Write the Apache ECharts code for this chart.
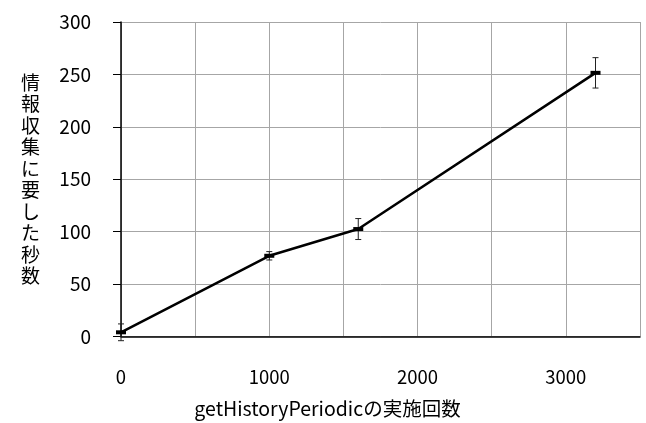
<!DOCTYPE html>
<html>
<head>
<meta charset="utf-8">
<script src="https://cdn.jsdelivr.net/npm/echarts@6/dist/echarts.min.js"></script>
<style>
  html, body { margin: 0; padding: 0; background: #fff; }
  #chart { width: 646px; height: 423px; }
</style>
</head>
<body>
<div id="chart"></div>
<script>
// 実施回数 / 秒数 / 誤差
var callCounts = [0, 1000, 1600, 3200]
var seconds = [4, 77, 102.5, 251.5]
var errors = [8, 4, 10, 14.5]

var xTicks = [0, 1000, 2000, 3000]
var yTicks = [0, 50, 100, 150, 200, 250, 300]

var font = 'Noto Sans CJK JP'
var chart = echarts.init(document.getElementById('chart'))

var lineData = callCounts.map(function (x, i) { return [x, seconds[i]] })
var errData = callCounts.map(function (x, i) {
  return [x, seconds[i] - errors[i], seconds[i] + errors[i]]
})

var option = {
  animation: false,
  grid: { left: 121, right: 6, top: 22, bottom: 84 },
  xAxis: {
    type: 'value',
    min: 0,
    max: 3500,
    interval: 500,
    name: 'getHistoryPeriodicの実施回数',
    nameLocation: 'middle',
    nameGap: 62,
    nameTextStyle: { fontFamily: font, fontSize: 19.5, color: '#000', padding: [0, 106, 0, 0] },
    axisLine: { lineStyle: { color: '#000', width: 1.5 } },
    axisTick: { show: false },
    axisLabel: {
      margin: 31,
      fontFamily: font,
      fontSize: 18.5,
      color: '#000',
      formatter: function (v) { return xTicks.indexOf(v) >= 0 ? String(v) : '' }
    },
    splitLine: { show: true, lineStyle: { color: '#a6a6a6', width: 1 } }
  },
  yAxis: {
    type: 'value',
    min: 0,
    max: 300,
    interval: 50,
    name: '情報収集に要した秒数'.split('').join('\n'),
    nameLocation: 'middle',
    nameRotate: 0,
    nameGap: 81,
    nameTextStyle: { fontFamily: font, fontSize: 19, color: '#000', lineHeight: 21.5 },
    axisLine: { show: true, lineStyle: { color: '#000', width: 1.5 } },
    axisTick: { show: true, inside: false, length: 8, lineStyle: { color: '#000' } },
    axisLabel: {
      margin: 30,
      fontFamily: font,
      fontSize: 19,
      color: '#000',
      formatter: function (v) { return yTicks.indexOf(v) >= 0 ? String(v) : '' }
    },
    splitLine: { show: true, lineStyle: { color: '#a6a6a6', width: 1 } }
  },
  series: [
    {
      type: 'custom',
      data: errData,
      z: 3,
      renderItem: function (params, api) {
        var x = api.value(0)
        var lo = api.coord([x, api.value(1)])
        var hi = api.coord([x, api.value(2)])
        var w = 3
        var st = { stroke: '#222', lineWidth: 1 }
        return {
          type: 'group',
          children: [
            { type: 'line', shape: { x1: lo[0], y1: lo[1], x2: hi[0], y2: hi[1] }, style: st },
            { type: 'line', shape: { x1: lo[0] - w, y1: lo[1], x2: lo[0] + w, y2: lo[1] }, style: st },
            { type: 'line', shape: { x1: hi[0] - w, y1: hi[1], x2: hi[0] + w, y2: hi[1] }, style: st }
          ]
        }
      }
    },
    {
      type: 'line',
      data: lineData,
      z: 4,
      lineStyle: { color: '#000', width: 2.5 },
      itemStyle: { color: '#000' },
      symbol: 'rect',
      symbolSize: [10, 4],
      showSymbol: true
    }
  ]
}
option && chart.setOption(option)
</script>
</body>
</html>
